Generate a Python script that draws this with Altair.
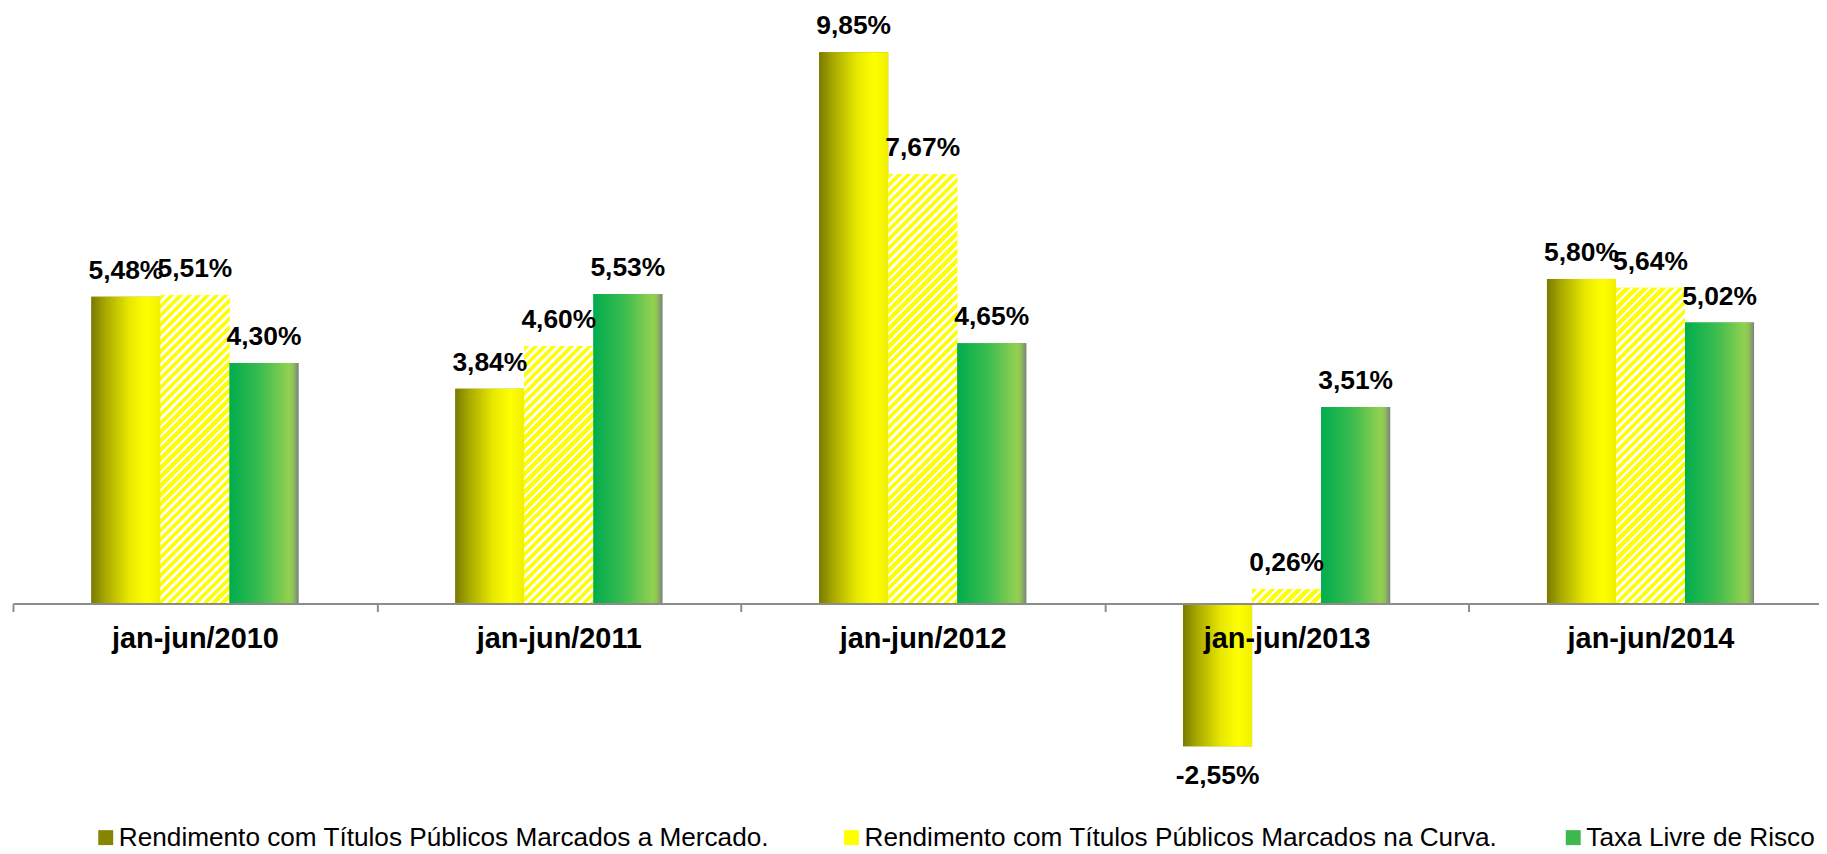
import altair as alt

# ---------------- data ----------------
categories = ["jan-jun/2010", "jan-jun/2011", "jan-jun/2012", "jan-jun/2013", "jan-jun/2014"]
series = [
    "Rendimento com Títulos Públicos  Marcados a Mercado.",
    "Rendimento com Títulos Públicos Marcados na Curva.",
    "Taxa Livre de Risco",
]
mercado = [5.48, 3.84, 9.85, -2.55, 5.80]
curva = [5.51, 4.60, 7.67, 0.26, 5.64]
taxa = [4.30, 5.53, 4.65, 3.51, 5.02]

# ---------------- layout ----------------
W, H = 1814, 759
STEP = 365.5
XRANGE = STEP * len(categories)      # runs a little past the right edge, as in the original
YMIN, YMAX = -3.0, 10.5
PX = H / (YMAX - YMIN)
GROUP = 208.0
BAR_W = GROUP / 3
GSTART = (STEP - GROUP) / 2
AXIS_OFFSET = H * (YMIN) / (YMAX - YMIN)  # negative -> move axis up to y = 0

FONT = "Liberation Sans, Arial"

MERCADO_GRAD = {
    "gradient": "linear", "x1": 0, "y1": 0, "x2": 1, "y2": 0,
    "stops": [
        {"offset": 0.0, "color": "#7A7A00"},
        {"offset": 0.2, "color": "#A8A800"},
        {"offset": 0.55, "color": "#E8E800"},
        {"offset": 0.8, "color": "#FFFF00"},
        {"offset": 1.0, "color": "#F0F000"},
    ],
}
TAXA_GRAD = {
    "gradient": "linear", "x1": 0, "y1": 0, "x2": 1, "y2": 0,
    "stops": [
        {"offset": 0.0, "color": "#00AD4E"},
        {"offset": 0.45, "color": "#3CBC4F"},
        {"offset": 0.86, "color": "#92D050"},
        {"offset": 0.92, "color": "#8EC455"},
        {"offset": 1.0, "color": "#808080"},
    ],
}


def hatch(value):
    h = max(abs(value) * PX, 1.0)
    w = BAR_W
    L = w + h
    k = L / (w * w + h * h)
    p, q = k * w, k * h
    period, frac = 9.0, 0.6
    stops = []
    i = 0
    while i * period < L:
        a = min(i * period / L, 1.0)
        b = min((i + frac) * period / L, 1.0)
        c = min((i + 1) * period / L, 1.0)
        stops += [
            {"offset": a, "color": "#FFFF00"},
            {"offset": b, "color": "#FFFF00"},
            {"offset": b, "color": "#FFFFFF"},
            {"offset": c, "color": "#FFFFFF"},
        ]
        i += 1
    return {"gradient": "linear", "x1": 0, "y1": 0, "x2": p, "y2": q, "stops": stops}


def fmt(v):
    return f"{v:.2f}".replace(".", ",") + "%"


records = []
for ci, cat in enumerate(categories):
    for si, (name, vals) in enumerate(zip(series, [mercado, curva, taxa])):
        v = vals[ci]
        if si == 0:
            g = MERCADO_GRAD
        elif si == 1:
            g = hatch(v)
        else:
            g = TAXA_GRAD
        records.append({"cat": cat, "series": name, "value": v, "label": fmt(v), "grad": g})

data = alt.Data(values=records)

x_enc = alt.X(
    "cat:N",
    sort=categories,
    scale=alt.Scale(range=[0, XRANGE], paddingInner=0, paddingOuter=0),
    axis=alt.Axis(
        title=None,
        orient="bottom",
        offset=AXIS_OFFSET,
        tickBand="extent",
        labelAngle=0,
        labelFont=FONT,
        labelFontSize=29,
        labelFontWeight="bold",
        labelColor="#000000",
        labelBaseline="alphabetic",
        labelPadding=36,
        tickSize=8,
        tickWidth=2,
        tickColor="#8C8C8C",
        domainColor="#8C8C8C",
        domainWidth=2,
        grid=False,
        zindex=1,
    ),
)
xo_enc = alt.XOffset(
    "series:N",
    sort=series,
    scale=alt.Scale(domain=series, range=[GSTART, GSTART + GROUP], paddingInner=0, paddingOuter=0),
)
y_enc = alt.Y(
    "value:Q",
    scale=alt.Scale(domain=[YMIN, YMAX], nice=False, zero=True),
    axis=None,
)

base = alt.Chart(data)

legend_bars = base.mark_bar().encode(
    x=x_enc,
    xOffset=xo_enc,
    y=y_enc,
    color=alt.Color(
        "series:N",
        sort=series,
        scale=alt.Scale(domain=series, range=["#858500", "#FFFF00", "#3CB84C"]),
        legend=alt.Legend(
            title=None,
            orient="none",
            legendX=80,
            legendY=812,
            direction="horizontal",
            symbolType="square",
            symbolSize=225,
            symbolStrokeWidth=0,
            labelFont=FONT,
            labelFontSize=26.3,
            labelColor="#000000",
            labelLimit=1200,
            labelOffset=0,
            columnPadding=62,
        ),
    ),
)

grad_bars = base.mark_bar().encode(
    x=x_enc,
    xOffset=xo_enc,
    y=y_enc,
    fill=alt.Fill("grad:N", scale=None),
)

pos_labels = base.mark_text(
    font=FONT, fontSize=26.5, fontWeight="bold", color="#000000",
    baseline="alphabetic", dy=-18,
).encode(
    x=x_enc, xOffset=xo_enc, y=y_enc, text="label:N",
).transform_filter(alt.datum.value >= 0)

neg_labels = base.mark_text(
    font=FONT, fontSize=26.5, fontWeight="bold", color="#000000",
    baseline="alphabetic", dy=38,
).encode(
    x=x_enc, xOffset=xo_enc, y=y_enc, text="label:N",
).transform_filter(alt.datum.value < 0)

chart = (
    alt.layer(legend_bars, grad_bars, pos_labels, neg_labels)
    .properties(
        width=W,
        height=H,
        autosize=alt.AutoSizeParams(type="none"),
        padding={"left": 5, "top": 6, "right": 0, "bottom": 81},
        background="#FFFFFF",
    )
    .configure_view(stroke=None)
)

chart.save("out.html", embed_options={"renderer": "svg", "actions": False})
